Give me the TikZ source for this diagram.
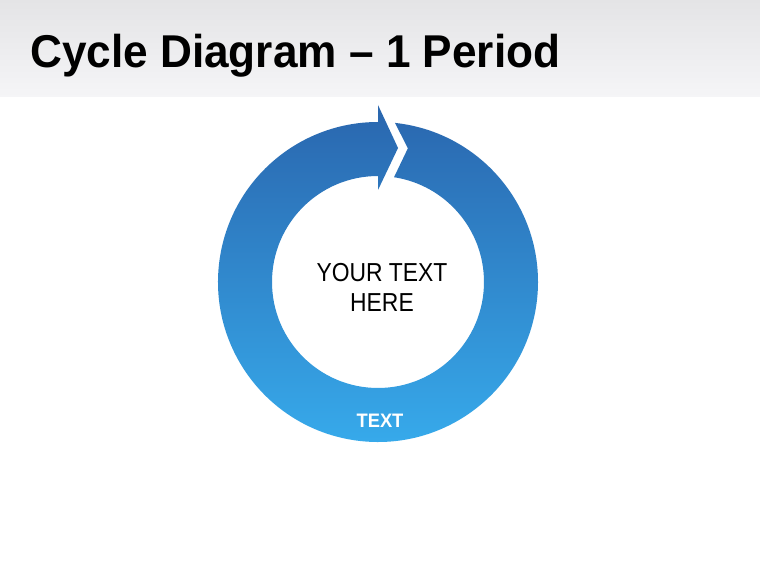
\documentclass[tikz,border=0pt]{standalone}
\usepackage{fontspec}
\setmainfont{Liberation Sans}
\usetikzlibrary{shadings}

\definecolor{ringtop}{HTML}{2A66AE}
\definecolor{ringbottom}{HTML}{37ABEC}
\definecolor{bartop}{HTML}{E4E4E6}
\definecolor{barbottom}{HTML}{F5F5F7}

\begin{document}
\begin{tikzpicture}[x=1pt, y=1pt]
    % Canvas
    \useasboundingbox (-378,-288) rectangle (382,282);
    \fill[white] (-378,-288) rectangle (382,282);
    % Title bar
    \shade[top color=bartop, bottom color=barbottom] (-378,185) rectangle (382,282);
    \node[anchor=base west, inner sep=0pt, font=\fontsize{46}{50}\selectfont\bfseries] (title) at (-348,214) {\scalebox{0.96}[1]{Cycle Diagram -- 1 Period}};
    % Ring with arrow
    \shade[top color=ringtop, bottom color=ringbottom]
        (83.9:160) arc[start angle=83.9, end angle=-270, radius=160]
        -- (90:177) -- (81.5:135.5) -- (90:92) -- (90:106)
        arc[start angle=-270, end angle=81.3, radius=106]
        -- (77.4:137) -- cycle;
    % Texts
    \node[anchor=base, inner sep=0pt, font=\fontsize{26}{30}\selectfont] (yourtext) at (4,1) {\scalebox{0.88}[1]{YOUR TEXT}};
    \node[anchor=base, inner sep=0pt, font=\fontsize{26}{30}\selectfont] (here) at (4,-29) {\scalebox{0.88}[1]{HERE}};
    \node[anchor=base, inner sep=0pt, text=white, font=\fontsize{19.5}{22}\selectfont\bfseries] (label) at (2,-145) {\scalebox{0.94}[1]{TEXT}};
\end{tikzpicture}
\end{document}
